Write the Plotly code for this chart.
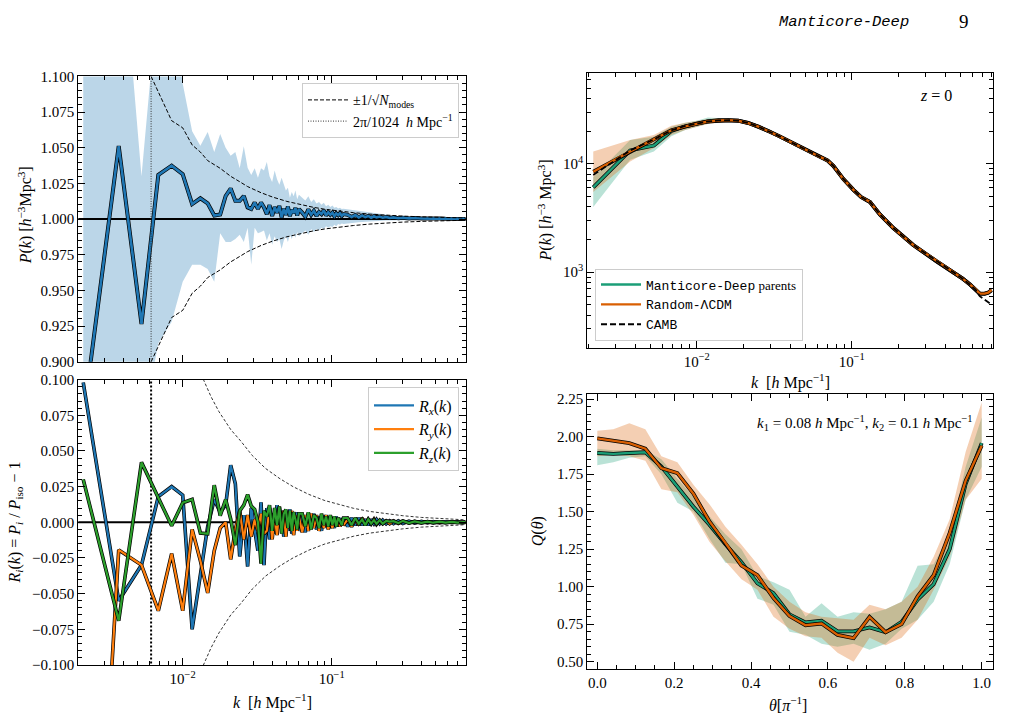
import plotly.graph_objects as go

W, H = 1011, 727

# ---------------- left panels: k bins ----------------
K = [0.00215, 0.00372, 0.00529, 0.00686, 0.00843, 0.0100, 0.01157, 0.01314, 0.01471, 0.01628,
     0.01785, 0.01942, 0.02099, 0.02256, 0.02413, 0.02570, 0.02727, 0.02884, 0.03041, 0.03198,
     0.03355, 0.03512,
     0.03669, 0.03826, 0.03983, 0.0414, 0.04297, 0.04454, 0.04611, 0.04768, 0.04925, 0.05082,
     0.05239, 0.05396, 0.05553, 0.0571, 0.05867, 0.06024,
     0.0634, 0.0665, 0.0697, 0.0728, 0.0759, 0.0791, 0.0822, 0.0854, 0.0885, 0.0916,
     0.0948, 0.0979, 0.1011, 0.1042, 0.1073, 0.1105, 0.1136, 0.1168, 0.1199,
     0.128, 0.136, 0.144, 0.152, 0.160, 0.168, 0.176, 0.184, 0.192, 0.200, 0.210, 0.220, 0.232, 0.245,
     0.26, 0.28, 0.30, 0.33, 0.36, 0.40, 0.44, 0.48, 0.53, 0.58, 0.64, 0.70, 0.76, 0.79]

P_RATIO = [0.86, 1.0512, 0.9265, 1.031, 1.0375, 1.0315, 1.0105, 1.0146, 1.011, 1.0025,
           1.0032, 1.0162, 1.0214, 1.0128, 1.0128, 1.0162, 1.0082, 1.0071, 1.0116, 1.0071,
           1.0116, 1.0082,
           1.0035, 1.0098, 1.0022, 1.0085, 1.0045, 1.0092, 1.0012, 1.0072, 1.0030, 1.0088,
           1.0020, 1.0065, 1.0042, 1.0078, 1.0025, 1.0070,
           1.0045, 1.0018, 1.0068, 1.0030, 1.0058, 1.0022, 1.0050, 1.0035, 1.0062, 1.0025,
           1.0048, 1.0030, 1.0045, 1.0020, 1.0040, 1.0028, 1.0042, 1.0022, 1.0035,
           1.0030, 1.0015, 1.0028, 1.0012, 1.0025, 1.0014, 1.0022, 1.0010, 1.0020, 1.0012,
           1.0018, 1.0010, 1.0015, 1.0008,
           1.0012, 1.0006, 1.0010, 1.0005, 1.0008, 1.0004, 1.0006, 1.0003, 1.0004, 1.0002,
           1.0003, 1.0002, 1.0002, 1.0001]

P_UP = [1.25, 1.22, 1.030, 1.16, 1.15, 1.095, 1.0616, 1.0514, 1.061, 1.047,
        1.0596, 1.050, 1.0445, 1.047, 1.0356, 1.051, 1.036, 1.031, 1.0356, 1.029,
        1.0356, 1.034,
        1.040, 1.030, 1.026, 1.034, 1.028, 1.024, 1.029, 1.025, 1.020, 1.022,
        1.015, 1.019, 1.016, 1.020, 1.014, 1.017,
        1.015, 1.013, 1.016, 1.012, 1.014, 1.011, 1.012, 1.010, 1.0115, 1.009,
        1.010, 1.0085, 1.0095, 1.008, 1.0085, 1.0075, 1.008, 1.007, 1.0072,
        1.0068, 1.0062, 1.0058, 1.0055, 1.005, 1.0047, 1.0045, 1.0042, 1.004, 1.0037,
        1.0034, 1.0031, 1.0028, 1.0025,
        1.0023, 1.002, 1.0018, 1.0015, 1.0013, 1.0011, 1.0009, 1.0008, 1.0007, 1.0006,
        1.0005, 1.0004, 1.0004, 1.0003]

P_LO = [0.75, 0.78, 0.85, 0.913, 0.928, 0.956, 0.968, 0.968, 0.965, 0.956,
        0.990, 0.984, 0.984, 0.986, 0.989, 0.984, 0.994, 0.968, 0.994, 0.990,
        0.991, 0.992,
        0.985, 0.990, 0.982, 0.988, 0.984, 0.986, 0.979, 0.985, 0.988, 0.984,
        0.989, 0.986, 0.990, 0.987, 0.991, 0.988,
        0.990, 0.992, 0.989, 0.993, 0.991, 0.993, 0.992, 0.994, 0.993, 0.995,
        0.994, 0.995, 0.9945, 0.996, 0.995, 0.9965, 0.996, 0.997, 0.9965,
        0.997, 0.9972, 0.9975, 0.9978, 0.998, 0.9982, 0.9983, 0.9985, 0.9986, 0.9987,
        0.9988, 0.9989, 0.999, 0.9991,
        0.9992, 0.9993, 0.9993, 0.9994, 0.9995, 0.9995, 0.9996, 0.9996, 0.9997, 0.9997,
        0.9998, 0.9998, 0.9998, 0.9999]

KS_TOP = [0.00614, 0.00843, 0.0100, 0.01157, 0.01314, 0.01471, 0.01785, 0.02099, 0.02413, 0.02727,
          0.03355, 0.04, 0.05, 0.06, 0.075, 0.09, 0.11, 0.14, 0.18, 0.23, 0.3, 0.4, 0.55, 0.79]
SIG_TOP = [0.100, 0.069, 0.064, 0.052, 0.047, 0.041, 0.0356, 0.030, 0.0262, 0.0228,
           0.0185, 0.0155, 0.0124, 0.0104, 0.0083, 0.0069, 0.0057, 0.0045, 0.0035, 0.0027,
           0.0021, 0.0016, 0.0011, 0.0008]

KS_BOT = [0.0125, 0.0138, 0.0155, 0.0175, 0.021, 0.0245, 0.0293, 0.036, 0.045, 0.055,
          0.07, 0.09, 0.11, 0.14, 0.18, 0.23, 0.3, 0.4, 0.55, 0.79]
SIG_BOT = [0.110, 0.0993, 0.088, 0.0776, 0.065, 0.057, 0.0468, 0.0377, 0.0305, 0.025,
           0.0196, 0.0152, 0.0125, 0.0098, 0.0076, 0.006, 0.0046, 0.0034, 0.0025, 0.0017]

K_BOX = 0.006136  # 2*pi/1024

R_X = [0.098, -0.055, -0.030, 0.018, 0.025, 0.019, -0.075, -0.035, -0.003, 0.016,
       0.007, 0.012, 0.040, 0.027, -0.024, 0.005, -0.031, 0.010, -0.006, -0.020,
       0.014, -0.030,
       0.010, -0.012, 0.006, -0.008, 0.012, -0.004, 0.008, -0.010, 0.005, -0.006,
       0.009, -0.008, 0.004, -0.005, 0.007, -0.006,
       0.005, -0.007, 0.006, -0.004, 0.006, -0.005, 0.004, -0.006, 0.005, -0.003,
       0.004, -0.004, 0.003, -0.004, 0.004, -0.003, 0.003, -0.002, 0.003,
       -0.003, 0.003, -0.002, 0.003, -0.002, 0.002, -0.002, 0.002, -0.001, 0.002,
       -0.001, 0.0015, -0.001, 0.001,
       -0.001, 0.001, -0.0008, 0.0008, -0.0006, 0.0006, -0.0005, 0.0005, -0.0004, 0.0004,
       -0.0003, 0.0003, -0.0002, 0.0002]

R_Y = [-0.44, -0.0194, -0.030, -0.062, -0.022, -0.062, -0.005, -0.027, -0.0495, -0.020,
       -0.004, 0.000, -0.026, -0.005, 0.008, -0.012, 0.005, -0.010, 0.002, -0.006,
       0.006, -0.008,
       -0.006, 0.010, -0.012, 0.004, -0.009, 0.011, -0.003, 0.008, -0.010, 0.006,
       -0.004, 0.008, -0.009, 0.005, -0.006, 0.004,
       -0.007, 0.005, -0.006, 0.006, -0.004, 0.005, -0.006, 0.003, -0.004, 0.005,
       -0.005, 0.002, -0.004, 0.003, -0.003, 0.003, -0.003, 0.002, -0.002,
       0.002, -0.003, 0.002, -0.002, 0.003, -0.002, 0.002, -0.001, 0.002, -0.0015,
       0.001, -0.001, 0.001, -0.001,
       0.001, -0.0008, 0.0008, -0.0006, 0.0006, -0.0005, 0.0004, -0.0004, 0.0003, -0.0003,
       0.0002, -0.0002, 0.0002, -0.0001]

R_Z = [0.030, -0.069, 0.042, 0.0175, -0.0025, 0.0137, 0.016, -0.0075, -0.008, 0.026,
       0.0046, 0.016, 0.0023, -0.016, 0.008, 0.012, 0.0194, 0.0114, 0.009, 0.000,
       -0.029, 0.008,
       0.004, 0.012, -0.006, 0.010, -0.002, 0.011, -0.008, 0.006, 0.009, -0.004,
       0.008, -0.006, 0.007, 0.002, -0.005, 0.006,
       0.006, -0.003, 0.007, -0.005, 0.005, 0.003, -0.004, 0.006, -0.002, 0.004,
       -0.003, 0.005, -0.002, 0.004, -0.003, 0.003, 0.001, -0.002, 0.003,
       0.003, -0.002, 0.003, -0.001, 0.002, -0.002, 0.002, -0.001, 0.0015, -0.001,
       0.0015, -0.001, 0.001, 0.0005,
       0.0008, -0.0006, 0.001, -0.0005, 0.0006, -0.0004, 0.0005, -0.0003, 0.0004, -0.0002,
       0.0003, -0.0002, 0.0002, 0.0001]

# ---------------- top-right: power spectra ----------------
KP = [0.00215, 0.00372, 0.00529, 0.00686, 0.00843, 0.0100, 0.0118, 0.0138, 0.016, 0.0185,
      0.0215, 0.025, 0.029, 0.034, 0.04, 0.047, 0.055, 0.0625, 0.07, 0.0763,
      0.0884, 0.1026, 0.115, 0.1312, 0.152, 0.1858, 0.2494, 0.3532, 0.451, 0.52,
      0.578, 0.63, 0.67, 0.72, 0.76, 0.80]
P_CAMB = [7900, 13300, 16800, 20400, 22350, 23500, 24600, 25150, 25300, 25000,
          23800, 22050, 20150, 18030, 16030, 14240, 12570, 11570, 10720, 9530,
          7220, 5740, 4930, 4440, 3410, 2550, 1780, 1255, 1000, 870,
          770, 690, 600, 555, 526, 500]
P_MAN = [6070, 13290, 14750, 20100, 22200, 23600, 24700, 25250, 25350, 25050,
         23900, 22100, 20150, 18030, 16030, 14240, 12570, 11570, 10720, 9530,
         7220, 5740, 4930, 4440, 3410, 2550, 1780, 1255, 1000, 870,
         770, 695, 632, 630, 645, 680]
P_RAN = [8460, 13020, 16820, 20420, 22200, 23500, 24600, 25150, 25300, 25000,
         23800, 22050, 20150, 18030, 16030, 14240, 12570, 11570, 10720, 9530,
         7220, 5740, 4930, 4440, 3410, 2550, 1780, 1255, 1000, 870,
         772, 697, 634, 632, 647, 682]
MAN_LO = [4000, 10900, 13000, 18000, 20500, 22000, 23400, 24200, 24500, 24300,
          23200, 21600, 19800, 17750, 15850, 14100, 12470, 11490, 10660, 9480,
          7190, 5720, 4915, 4430, 3402, 2545, 1776, 1252, 998, 868,
          768, 693, 630, 628, 643, 678]
MAN_HI = [7500, 16600, 17800, 22000, 24000, 25000, 26800, 26500, 26300, 25800,
          24600, 22600, 20500, 18300, 16200, 14380, 12670, 11650, 10780, 9580,
          7250, 5760, 4945, 4450, 3418, 2555, 1784, 1258, 1002, 872,
          772, 697, 634, 632, 647, 682]
RAN_LO = [5500, 10500, 14000, 18500, 20500, 22000, 23300, 24000, 24300, 24200,
          23100, 21500, 19750, 17700, 15800, 14080, 12460, 11480, 10650, 9470,
          7185, 5718, 4912, 4428, 3400, 2543, 1775, 1251, 998, 868,
          769, 694, 631, 629, 644, 679]
RAN_HI = [13000, 16600, 18500, 22500, 24000, 24800, 26000, 26300, 26300, 25800,
          24500, 22600, 20550, 18350, 16250, 14400, 12680, 11660, 10790, 9590,
          7255, 5762, 4948, 4452, 3420, 2557, 1785, 1259, 1002, 872,
          775, 700, 637, 635, 650, 685]

# ---------------- bottom-right: reduced bispectrum ----------------
THETA = [0.0, 0.0417, 0.0833, 0.125, 0.1667, 0.2083, 0.25, 0.2917, 0.3333, 0.375,
         0.4167, 0.4583, 0.5, 0.5417, 0.5833, 0.625, 0.6667, 0.7083, 0.75, 0.7917,
         0.8333, 0.875, 0.9167, 0.9583, 1.0]
Q_MAN = [1.891, 1.885, 1.891, 1.896, 1.80, 1.663, 1.533, 1.413, 1.283, 1.163,
         1.022, 0.957, 0.815, 0.761, 0.772, 0.702, 0.702, 0.728, 0.696, 0.765,
         0.913, 1.017, 1.25, 1.685, 1.957]
Q_RAN = [1.989, 1.974, 1.957, 1.920, 1.79, 1.757, 1.620, 1.435, 1.293, 1.141,
         1.076, 0.924, 0.804, 0.743, 0.754, 0.678, 0.657, 0.798, 0.696, 0.750,
         0.935, 1.076, 1.359, 1.707, 1.939]
QM_HI = [1.92, 1.91, 1.91, 1.91, 1.85, 1.72, 1.60, 1.47, 1.35, 1.25,
         1.07, 1.03, 0.98, 0.80, 0.89, 0.80, 0.83, 0.82, 0.85, 0.90,
         1.14, 1.15, 1.35, 1.80, 2.13]
QM_LO = [1.81, 1.83, 1.86, 1.87, 1.75, 1.56, 1.50, 1.32, 1.16, 1.15,
         0.92, 0.88, 0.70, 0.68, 0.62, 0.60, 0.62, 0.58, 0.62, 0.72,
         0.78, 0.90, 1.15, 1.58, 1.80]
QR_HI = [2.04, 2.05, 2.09, 2.05, 1.87, 1.83, 1.68, 1.55, 1.40, 1.28,
         1.15, 1.00, 0.90, 0.83, 0.80, 0.79, 0.78, 0.88, 0.85, 0.90,
         1.00, 1.20, 1.45, 1.90, 2.23]
QR_LO = [1.87, 1.88, 1.87, 1.84, 1.65, 1.63, 1.48, 1.30, 1.17, 1.05,
         0.98, 0.80, 0.72, 0.67, 0.66, 0.56, 0.50, 0.66, 0.61, 0.66,
         0.78, 0.98, 1.20, 1.58, 1.72]

# ---------------- styling ----------------
SERIF = "Liberation Serif"
MONO = "Liberation Mono"
TAB_BLUE, TAB_ORANGE, TAB_GREEN = "#1f77b4", "#ff7f0e", "#2ca02c"
D_GREEN, D_ORANGE = "#1b9e77", "#d95f02"


def px(x):
    return x / W


def py(y):
    return 1 - y / H


fig = go.Figure()


def edged(x, y, color, width, xa, ya, name=None, legend=None, edge=1.4):
    fig.add_trace(go.Scatter(x=x, y=y, mode="lines", xaxis=xa, yaxis=ya, showlegend=False,
                             line=dict(color="black", width=width + edge), hoverinfo="skip"))
    kw = dict(showlegend=False)
    if name is not None:
        kw = dict(showlegend=True, name=name, legend=legend)
    fig.add_trace(go.Scatter(x=x, y=y, mode="lines", xaxis=xa, yaxis=ya,
                             line=dict(color=color, width=width), **kw))


def band(x, lo, hi, color, xa, ya):
    fig.add_trace(go.Scatter(x=x, y=lo, mode="lines", line=dict(width=0), xaxis=xa, yaxis=ya,
                             showlegend=False, hoverinfo="skip"))
    fig.add_trace(go.Scatter(x=x, y=hi, mode="lines", line=dict(width=0), fill="tonexty",
                             fillcolor=color, xaxis=xa, yaxis=ya, showlegend=False,
                             hoverinfo="skip"))


# ---- top-left ----
band(K, P_LO, P_UP, "rgba(31,119,180,0.3)", "x", "y")
fig.add_trace(go.Scatter(x=[K[0] * 0.5, K[-1] * 1.5], y=[1.0, 1.0], mode="lines", xaxis="x", yaxis="y",
                         line=dict(color="black", width=2), showlegend=False))
edged(K, P_RATIO, TAB_BLUE, 2.6, "x", "y")
fig.add_trace(go.Scatter(x=KS_TOP, y=[1 + s for s in SIG_TOP], mode="lines", xaxis="x", yaxis="y",
                         line=dict(color="black", width=1, dash="4px,2px"),
                         name="±1/√<i>N</i><sub>modes</sub>", legend="legend"))
fig.add_trace(go.Scatter(x=KS_TOP, y=[1 - s for s in SIG_TOP], mode="lines", xaxis="x", yaxis="y",
                         line=dict(color="black", width=1, dash="4px,2px"), showlegend=False))
fig.add_trace(go.Scatter(x=[K_BOX, K_BOX], y=[0.8, 1.2], mode="lines", xaxis="x", yaxis="y",
                         line=dict(color="#333", width=1, dash="1px,1.5px"),
                         name="2π/1024  <i>h</i> Mpc<sup>−1</sup>", legend="legend"))

# ---- bottom-left ----
fig.add_trace(go.Scatter(x=[K[0] * 0.5, K[-1] * 1.5], y=[0, 0], mode="lines", xaxis="x2", yaxis="y2",
                         line=dict(color="black", width=2), showlegend=False))
fig.add_trace(go.Scatter(x=[K_BOX, K_BOX], y=[-0.2, 0.2], mode="lines", xaxis="x2", yaxis="y2",
                         line=dict(color="black", width=2, dash="2px,2px"), showlegend=False))
fig.add_trace(go.Scatter(x=KS_BOT, y=SIG_BOT, mode="lines", xaxis="x2", yaxis="y2",
                         line=dict(color="black", width=0.8, dash="3px,2px"), showlegend=False))
fig.add_trace(go.Scatter(x=KS_BOT, y=[-s for s in SIG_BOT], mode="lines", xaxis="x2", yaxis="y2",
                         line=dict(color="black", width=0.8, dash="3px,2px"), showlegend=False))
edged(K, R_X, TAB_BLUE, 2.2, "x2", "y2", "<i>R<sub>x</sub></i>(<i>k</i>)", "legend2")
edged(K, R_Y, TAB_ORANGE, 2.2, "x2", "y2", "<i>R<sub>y</sub></i>(<i>k</i>)", "legend2")
edged(K, R_Z, TAB_GREEN, 2.2, "x2", "y2", "<i>R<sub>z</sub></i>(<i>k</i>)", "legend2")

# ---- top-right ----
band(KP, MAN_LO, MAN_HI, "rgba(27,158,119,0.3)", "x3", "y3")
band(KP, RAN_LO, RAN_HI, "rgba(217,95,2,0.3)", "x3", "y3")
edged(KP, P_MAN, D_GREEN, 2.4, "x3", "y3",
      "<span style='font-family:Liberation Mono'>Manticore-Deep</span> parents", "legend3")
edged(KP, P_RAN, D_ORANGE, 2.4, "x3", "y3",
      "<span style='font-family:Liberation Mono'>Random-ΛCDM</span>", "legend3")
fig.add_trace(go.Scatter(x=KP, y=P_CAMB, mode="lines", xaxis="x3", yaxis="y3",
                         line=dict(color="black", width=1.8, dash="6px,3px"),
                         name="<span style='font-family:Liberation Mono'>CAMB</span>", legend="legend3"))

# ---- bottom-right ----
band(THETA, QM_LO, QM_HI, "rgba(27,158,119,0.3)", "x4", "y4")
band(THETA, QR_LO, QR_HI, "rgba(217,95,2,0.3)", "x4", "y4")
edged(THETA, Q_MAN, D_GREEN, 2.4, "x4", "y4")
edged(THETA, Q_RAN, D_ORANGE, 2.4, "x4", "y4")

# ---------------- axes ----------------
TICKFONT = dict(family=SERIF, size=15, color="black")


def base_axis(**kw):
    d = dict(showline=True, linecolor="black", linewidth=1, mirror="allticks", ticks="inside",
             ticklen=7, tickwidth=1, tickcolor="black", showgrid=False, zeroline=False,
             tickfont=TICKFONT)
    d.update(kw)
    return d


def log_minor(lo_exp, hi_exp, lo=None, hi=None):
    vals = []
    for e in range(lo_exp, hi_exp + 1):
        for m in range(2, 10):
            v = m * 10 ** e
            if (lo is None or v >= lo) and (hi is None or v <= hi):
                vals.append(v)
    return vals


xminor = log_minor(-3, -1, 0.0019, 0.8)
LOGX = dict(type="log", range=[-2.7007, -0.0987], tickmode="array", tickvals=[0.01, 0.1],
            ticktext=["10<sup>−2</sup>", "10<sup>−1</sup>"],
            minor=dict(ticks="inside", ticklen=4, tickwidth=1, tickcolor="black",
                       tickmode="array", tickvals=xminor, showgrid=False))

LEG = dict(bgcolor="rgba(255,255,255,0.85)", bordercolor="#cccccc", borderwidth=1,
           tracegroupgap=0, itemwidth=40, traceorder="normal")

fig.update_layout(
    width=W, height=H, margin=dict(l=0, r=0, t=0, b=0),
    paper_bgcolor="white", plot_bgcolor="white", font=dict(family=SERIF, color="black"),
    xaxis=base_axis(domain=[px(78.3), px(466)], anchor="y", showticklabels=False, **LOGX),
    yaxis=base_axis(domain=[py(361.7), py(70)], anchor="x", range=[0.9, 1.1],
                    tickmode="array", tickvals=[0.9, 0.925, 0.95, 0.975, 1.0, 1.025, 1.05, 1.075, 1.1],
                    ticktext=["0.900", "0.925", "0.950", "0.975", "1.000", "1.025", "1.050", "1.075", "1.100"],
                    minor=dict(ticks="inside", ticklen=4, tickcolor="black", dtick=0.005, tick0=0.9,
                               showgrid=False)),
    xaxis2=base_axis(domain=[px(78.3), px(466)], anchor="y2", **LOGX),
    yaxis2=base_axis(domain=[py(671.7), py(380)], anchor="x2", range=[-0.1, 0.1],
                     tickmode="array",
                     tickvals=[-0.1, -0.075, -0.05, -0.025, 0, 0.025, 0.05, 0.075, 0.1],
                     ticktext=["−0.100", "−0.075", "−0.050", "−0.025", "0.000", "0.025", "0.050",
                               "0.075", "0.100"],
                     minor=dict(ticks="inside", ticklen=4, tickcolor="black", dtick=0.005, tick0=-0.1,
                                showgrid=False)),
    xaxis3=base_axis(domain=[px(587.3), px(992.7)], anchor="y3", type="log", range=[-2.706, -0.0903],
                     tickmode="array", tickvals=[0.01, 0.1],
                     ticktext=["10<sup>−2</sup>", "10<sup>−1</sup>"],
                     minor=dict(ticks="inside", ticklen=4, tickcolor="black", tickmode="array",
                                tickvals=xminor, showgrid=False)),
    yaxis3=base_axis(domain=[py(347.3), py(66)], anchor="x3", type="log", range=[2.302, 4.843],
                     tickmode="array", tickvals=[1000, 10000],
                     ticktext=["10<sup>3</sup>", "10<sup>4</sup>"],
                     minor=dict(ticks="inside", ticklen=4, tickcolor="black", tickmode="array",
                                tickvals=log_minor(2, 4, 200, 69000), showgrid=False)),
    xaxis4=base_axis(domain=[px(587.3), px(992.7)], anchor="y4", range=[-0.026, 1.0286],
                     tickmode="array", tickvals=[0, 0.2, 0.4, 0.6, 0.8, 1.0],
                     ticktext=["0.0", "0.2", "0.4", "0.6", "0.8", "1.0"],
                     minor=dict(ticks="inside", ticklen=4, tickcolor="black", dtick=0.05, tick0=0,
                                showgrid=False)),
    yaxis4=base_axis(domain=[py(675.7), py(394.3)], anchor="x4", range=[0.452, 2.287],
                     tickmode="array", tickvals=[0.5, 0.75, 1.0, 1.25, 1.5, 1.75, 2.0, 2.25],
                     ticktext=["0.50", "0.75", "1.00", "1.25", "1.50", "1.75", "2.00", "2.25"],
                     minor=dict(ticks="inside", ticklen=4, tickcolor="black", dtick=0.05, tick0=0.5,
                                showgrid=False)),
    legend=dict(x=px(459), y=py(77), xanchor="right", yanchor="top",
                font=dict(family=SERIF, size=14), **LEG),
    legend2=dict(x=px(459), y=py(388), xanchor="right", yanchor="top",
                 font=dict(family=SERIF, size=16), **LEG),
    legend3=dict(x=px(595), y=py(340), xanchor="left", yanchor="bottom",
                 font=dict(family=SERIF, size=13), **LEG),
)

# ---------------- annotations ----------------
ann = []


def text(x, y, s, size=15, angle=0, xanchor="center", family=SERIF):
    ann.append(dict(x=px(x), y=py(y), xref="paper", yref="paper", text=s, showarrow=False,
                    font=dict(family=family, size=size, color="black"), textangle=angle,
                    xanchor=xanchor, yanchor="middle"))


text(25, 212, "<i>P</i>(<i>k</i>) [<i>h</i><sup>−3</sup>Mpc<sup>3</sup>]", 16, -90)
text(15, 526, "<i>R<sub>i</sub></i>(<i>k</i>) = <i>P<sub>i</sub></i> / <i>P</i><sub>iso</sub> − 1", 16, -90)
text(272, 709, "<i>k</i>  [<i>h</i> Mpc<sup>−1</sup>]", 16)
text(545, 207, "<i>P</i>(<i>k</i>) [<i>h</i><sup>−3</sup> Mpc<sup>3</sup>]", 16, -90)
text(790, 382, "<i>k</i>  [<i>h</i> Mpc<sup>−1</sup>]", 16)
text(538, 535, "<i>Q</i>(<i>θ</i>)", 16, -90)
text(788, 712, "<i>θ</i>[<i>π</i><sup>−1</sup>]", 16)
text(936, 89, "<i>z</i> = 0", 16)
text(975, 424, "<i>k</i><sub>1</sub> = 0.08 <i>h</i> Mpc<sup>−1</sup>, <i>k</i><sub>2</sub> = 0.1 <i>h</i> Mpc<sup>−1</sup>",
     15, 0, "right")
text(844, 14, "<i>Manticore-Deep</i>", 15.5, 0, "center", MONO)
text(964, 14, "9", 19)
fig.update_layout(annotations=ann)

fig.write_html("out.html")
